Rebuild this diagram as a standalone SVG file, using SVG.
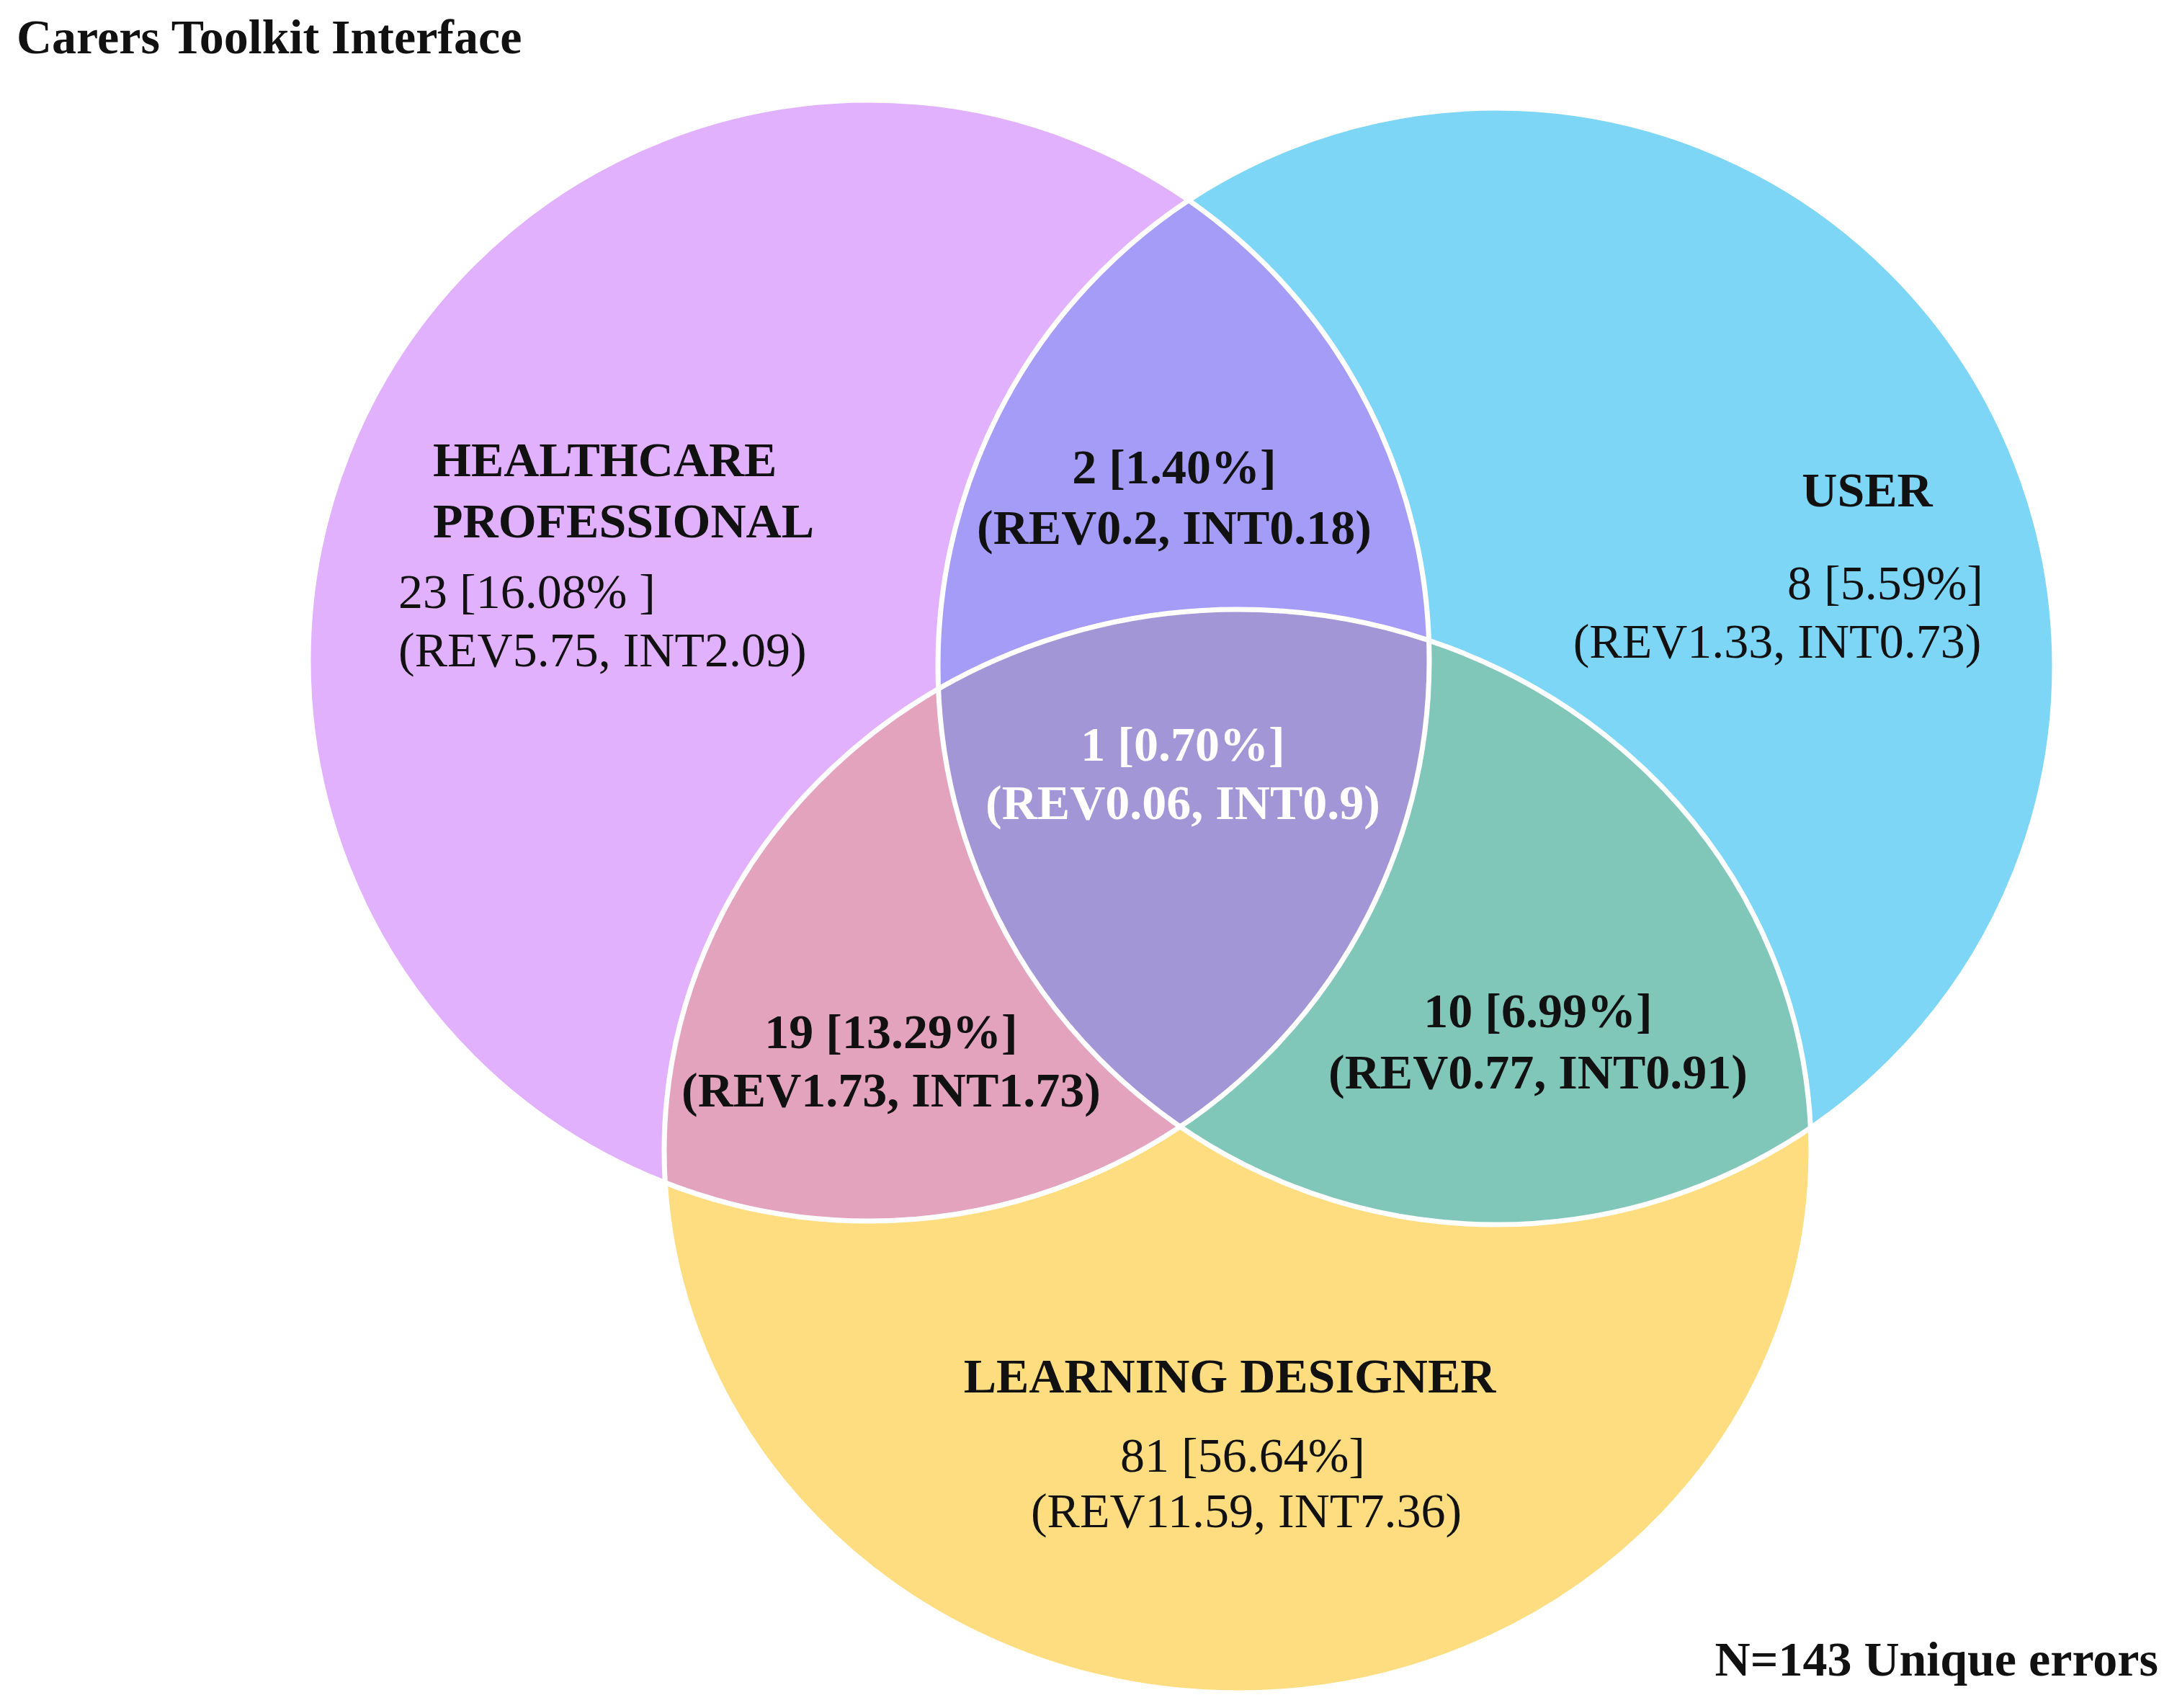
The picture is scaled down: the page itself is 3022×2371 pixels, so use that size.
<svg xmlns="http://www.w3.org/2000/svg" width="3022" height="2371" viewBox="0 0 3022 2371">
<style>
text{font-family:"Liberation Serif","Times New Roman",serif;font-size:68px;fill:#111}
.b{font-weight:bold}
.c{text-anchor:middle}
.w{fill:#fff}
.o{fill:none;stroke:#fff;stroke-width:7}
</style>
<defs>
<clipPath id="cp"><circle cx="1206" cy="917" r="778"/></clipPath>
<clipPath id="cb"><circle cx="2077" cy="925" r="775"/></clipPath>
</defs>
<rect width="3022" height="2371" fill="#fff"/>
<g id="sets">
<ellipse cx="1718" cy="1598" rx="796" ry="752" fill="#FEDD80"/>
<circle cx="2077" cy="925" r="775" fill="#7DD6F6"/>
<circle cx="1206" cy="917" r="778" fill="#E1B1FD"/>
<g clip-path="url(#cp)"><circle cx="2077" cy="925" r="775" fill="#A59CF8"/><ellipse cx="1718" cy="1598" rx="796" ry="752" fill="#E4A3BD"/></g>
<g clip-path="url(#cb)"><ellipse cx="1718" cy="1598" rx="796" ry="752" fill="#80C7B9"/></g>
<g clip-path="url(#cp)"><g clip-path="url(#cb)"><ellipse cx="1718" cy="1598" rx="796" ry="752" fill="#A396D6"/></g></g>
</g>
<g id="connectors">
<circle class="o" cx="1206" cy="917" r="778"/>
<circle class="o" cx="2077" cy="925" r="775"/>
<ellipse class="o" cx="1718" cy="1598" rx="796" ry="752"/>
</g>
<text class="b" x="23" y="74">Carers Toolkit Interface</text>
<g id="hp"><text class="b" x="601" y="661">HEALTHCARE</text><text class="b" x="601" y="746">PROFESSIONAL</text><text x="553" y="844">23 [16.08% ]</text><text x="553" y="925">(REV5.75, INT2.09)</text></g>
<g id="hpu"><text class="b c" x="1630" y="671">2 [1.40%]</text><text class="b c" x="1630" y="755">(REV0.2, INT0.18)</text></g>
<g id="user"><text class="b c" x="2592" y="703">USER</text><text class="c" x="2617" y="832">8 [5.59%]</text><text class="c" x="2467" y="913">(REV1.33, INT0.73)</text></g>
<g id="all"><text class="b c w" x="1642" y="1056">1 [0.70%]</text><text class="b c w" x="1642" y="1137">(REV0.06, INT0.9)</text></g>
<g id="hpl"><text class="b c" x="1237" y="1455">19 [13.29%]</text><text class="b c" x="1237" y="1536">(REV1.73, INT1.73)</text></g>
<g id="ul"><text class="b c" x="2135" y="1426">10 [6.99%]</text><text class="b c" x="2135" y="1511">(REV0.77, INT0.91)</text></g>
<g id="ld"><text class="b c" x="1707" y="1933">LEARNING DESIGNER</text><text class="c" x="1725" y="2043">81 [56.64%]</text><text class="c" x="1730" y="2120">(REV11.59, INT7.36)</text></g>
<text class="b" x="2996" y="2326" text-anchor="end">N=143 Unique errors</text>
</svg>
